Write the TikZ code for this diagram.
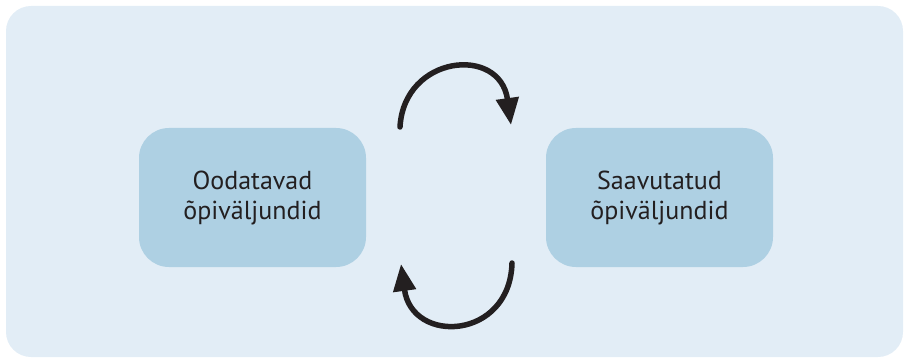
\documentclass[tikz,border=0pt]{standalone}
\usepackage{fontspec}
\setmainfont{PT Sans}
\usepackage{xcolor}
\usetikzlibrary{arrows.meta}

\definecolor{panelblue}{HTML}{E2EDF6}
\definecolor{boxblue}{HTML}{AED0E3}
\definecolor{inkgrey}{HTML}{231F20}

\tikzset{
	outcome/.style={fill=boxblue, rounded corners=30pt, minimum width=227pt,
		minimum height=139pt, align=center, text=inkgrey,
		font=\fontsize{26pt}{30pt}\selectfont},
	cycle/.style={->, line width=5.5pt, line cap=round, draw=inkgrey,
		>={Triangle[length=27pt,width=22pt]}}
}

\begin{document}
\begin{tikzpicture}[x=1pt,y=-1pt]
		\useasboundingbox (0,0) rectangle (904,358);
		\fill[panelblue, rounded corners=25pt] (6,6) rectangle (903,357);
		%
		\node[outcome] (L) at (252.5,197.5) {Oodatavad\\õpiväljundid};
		\node[outcome] (R) at (659.5,197.5) {Saavutatud\\õpiväljundid};
		%
		\coordinate (T1) at (400,127);
		\coordinate (T2) at (511,125);
		\coordinate (B1) at (512,263);
		\coordinate (B2) at (401,264);
		%
		% top arrow
		\draw[cycle] (T1) .. controls (404,55) and (500,45) .. (T2);
		% bottom arrow
		\draw[cycle] (B1) .. controls (510,340) and (412,345) .. (B2);
\end{tikzpicture}
\end{document}
